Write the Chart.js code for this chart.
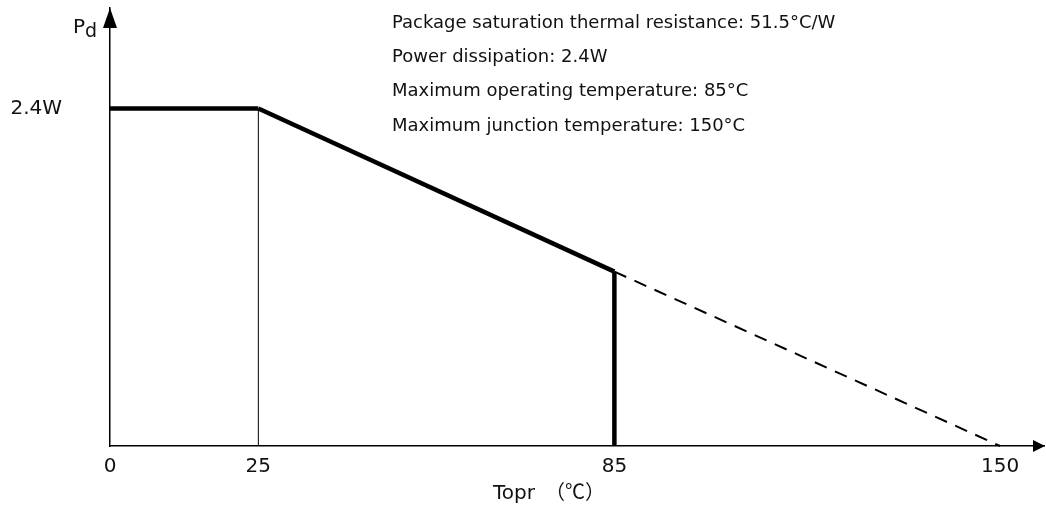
<!DOCTYPE html>
<html>
<head>
<meta charset="utf-8">
<script src="https://cdn.jsdelivr.net/npm/chart.js@4.4.1/dist/chart.umd.min.js"></script>
<style>
html, body { margin: 0; padding: 0; background: #fff; }
#wrap { width: 1046px; height: 510px; }
</style>
</head>
<body>
<div id="wrap"><canvas id="deratingChart"></canvas></div>
<script>
// Derating curve: ambient temperature (°C) vs power dissipation (W)
const flatTemps = [0, 25];
const flatPd = [2.4, 2.4];
const slopeTemps = [25, 85];
const slopePd = [2.4, 1.24];
const extTemps = [85, 150];
const extPd = [1.24, 0];
const xTicks = [0, 25, 85, 150];
const yTicks = [2.4];
const notes = [
    "Package saturation thermal resistance: 51.5°C/W",
    "Power dissipation: 2.4W",
    "Maximum operating temperature: 85°C",
    "Maximum junction temperature: 150°C"
];

const FONT = "DejaVu Sans";
const ink = "#111";

function pts(xs, ys) {
    return xs.map((x, i) => ({ x: x, y: ys[i] }));
}

// vertical guides down to the axis
const guide25 = pts([slopeTemps[0], slopeTemps[0]], [0, slopePd[0]]);
const guide85 = pts([extTemps[0], extTemps[0]], [0, extPd[0]]);

const decorations = {
    id: "decorations",
    afterDraw(chart) {
        const c = chart.ctx;
        const area = chart.chartArea;
        c.save();
        c.fillStyle = "#000";
        // y axis arrow
        c.beginPath();
        c.moveTo(area.left, area.top);
        c.lineTo(area.left - 7, area.top + 20);
        c.lineTo(area.left + 7, area.top + 20);
        c.closePath();
        c.fill();
        // x axis arrow
        c.beginPath();
        c.moveTo(area.right + 1, area.bottom);
        c.lineTo(area.right - 11, area.bottom - 6);
        c.lineTo(area.right - 11, area.bottom + 6);
        c.closePath();
        c.fill();

        c.fillStyle = ink;
        c.textBaseline = "alphabetic";
        c.textAlign = "left";

        // Pd label
        c.font = "20px " + FONT;
        c.fillText("P", 73, 33);
        c.font = "19px " + FONT;
        c.fillText("d", 85, 37);

        // notes
        c.font = "18px " + FONT;
        notes.forEach((t, i) => {
            c.fillText(t, 392, 28 + i * 34.2);
        });

        // x axis title
        c.font = "20px " + FONT;
        c.fillText("Topr", 493, 499);
        c.font = "20px 'Noto Sans CJK JP'";
        c.fillText("（℃）", 545, 499);
        c.restore();
    }
};

// Chart
new Chart(document.getElementById("deratingChart"), {
    type: "scatter",
    data: {
        datasets: [
            { data: pts(flatTemps, flatPd), borderWidth: 4.5 },
            { data: pts(slopeTemps, slopePd), borderWidth: 4.5 },
            { data: pts(extTemps, extPd), borderWidth: 2, borderDash: [13, 9] },
            { data: guide25, borderWidth: 1 },
            { data: guide85, borderWidth: 4.5 }
        ].map(d => Object.assign({
            showLine: true,
            borderColor: "#000",
            pointRadius: 0,
            clip: false,
            borderCapStyle: "butt"
        }, d))
    },
    options: {
        responsive: true,
        maintainAspectRatio: false,
        animation: false,
        layout: { padding: { top: 8, right: 2, left: 0, bottom: 0 } },
        plugins: {
            legend: { display: false },
            tooltip: { enabled: false }
        },
        scales: {
            x: {
                type: "linear",
                min: 0,
                max: 157.4,
                afterBuildTicks: s => { s.ticks = xTicks.map(v => ({ value: v })); },
                afterFit: s => {
                    s.height = 64;
                    s.paddingLeft = 0;
                    s.paddingRight = 0;
                },
                grid: { display: false, drawTicks: false },
                border: { color: "#000", width: 1.5 },
                ticks: {
                    color: ink,
                    padding: 9,
                    autoSkip: false,
                    maxRotation: 0,
                    font: { family: FONT, size: 20 }
                }
            },
            y: {
                min: 0,
                max: 3.115,
                afterBuildTicks: s => { s.ticks = yTicks.map(v => ({ value: v })); },
                afterFit: s => {
                    s.width = 110;
                    s.paddingTop = 0;
                    s.paddingBottom = 0;
                },
                grid: { display: false, drawTicks: false },
                border: { color: "#000", width: 1.5 },
                ticks: {
                    color: ink,
                    padding: 48,
                    callback: v => v + "W",
                    font: { family: FONT, size: 20 }
                }
            }
        }
    },
    plugins: [decorations]
});
</script>
</body>
</html>
